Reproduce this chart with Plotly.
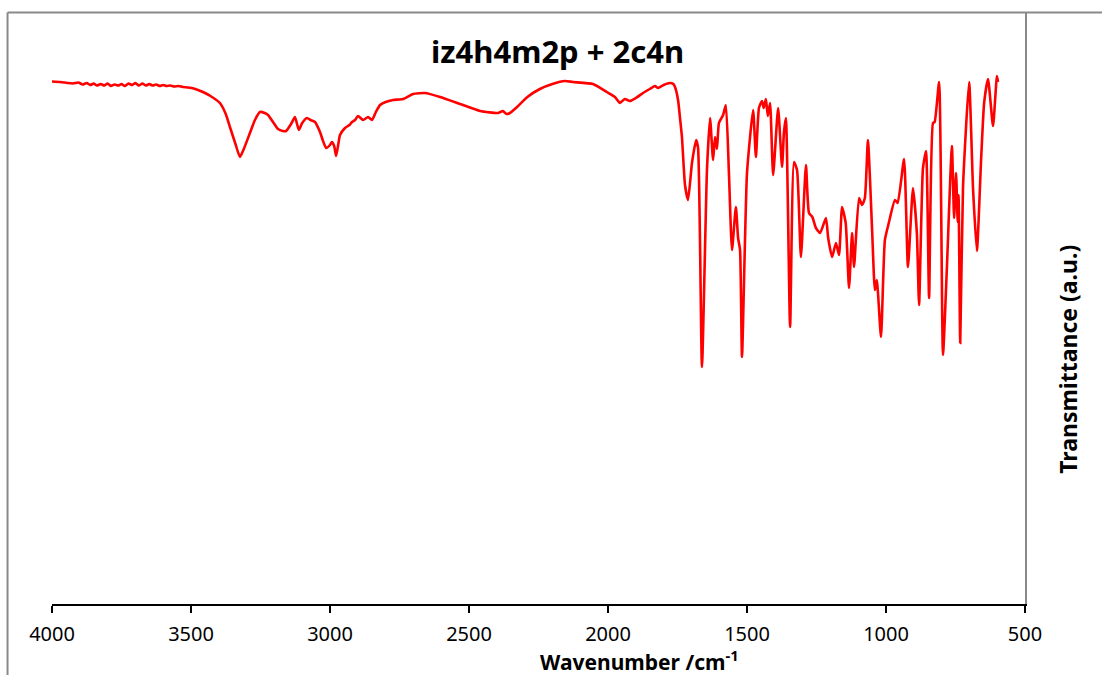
import plotly.graph_objects as go

# Wavenumber (cm^-1) and transmittance (a.u.)
wavenumber = [4000, 3970, 3945, 3925, 3905, 3890, 3875, 3862, 3850, 3838, 3825, 3812, 3800, 3788,
              3775, 3762, 3750, 3738, 3725, 3712, 3700, 3688, 3675, 3662, 3650, 3638, 3625, 3612,
              3600, 3588, 3575, 3560, 3545, 3529, 3510, 3490, 3457, 3430, 3396, 3375, 3360, 3340,
              3324, 3310, 3288, 3270, 3252, 3235, 3223, 3205, 3187, 3170, 3158, 3140, 3126, 3112,
              3100, 3083, 3070, 3054, 3036, 3025, 3014, 3000, 2993, 2985, 2978, 2970, 2964, 2946,
              2930, 2921, 2910, 2899, 2881, 2863, 2849, 2835, 2820, 2800, 2773, 2737, 2701, 2658,
              2604, 2532, 2460, 2396, 2378, 2365, 2353, 2327, 2290, 2245, 2200, 2155, 2126, 2054,
              2004, 1975, 1957, 1940, 1921, 1900, 1874, 1850, 1831, 1820, 1800, 1777, 1765, 1759,
              1748, 1741, 1734, 1723, 1712, 1698, 1683, 1676, 1662, 1644, 1633, 1622, 1615, 1608,
              1601, 1586, 1576, 1565, 1554, 1540, 1532, 1525, 1518, 1500, 1478, 1468, 1457, 1446,
              1440, 1432, 1425, 1417, 1406, 1388, 1374, 1367, 1360, 1345, 1331, 1320, 1306, 1288,
              1277, 1265, 1252, 1237, 1216, 1208, 1194, 1180, 1169, 1158, 1145, 1133, 1122, 1115,
              1097, 1086, 1076, 1065, 1050, 1040, 1033, 1018, 1004, 990, 968, 958, 935, 921,
              903, 889, 881, 867, 856, 845, 831, 825, 809, 795, 781, 763, 755, 748,
              742, 739, 733, 723, 701, 687, 673, 658, 647, 633, 615, 601, 597]
transmittance = [522.5, 522, 521, 520.5, 521.5, 519.5, 521, 519, 520.5, 518.5, 520, 518.5, 520.5, 518,
                 519.5, 518.5, 520, 518, 520.5, 519, 521, 518.5, 520.5, 518.5, 520, 518.5, 519.5, 518,
                 519, 518, 518.5, 517.5, 518, 517, 516.5, 515.5, 512, 508, 501, 490, 477, 460,
                 447, 455, 471, 484, 492, 491, 489, 482, 475, 473, 473, 480, 487, 474,
                 481, 486, 484, 482, 472, 463, 456, 459, 462, 458, 448, 460, 469, 476,
                 479, 482, 484, 488, 484, 487, 484, 492, 499, 502, 504, 505, 510, 511,
                 507, 500, 493, 491, 493, 490, 491, 497, 507, 515, 520, 523, 522, 520,
                 512, 507, 501, 505, 503, 506, 511, 515, 518, 516, 519, 521, 520, 517,
                 504, 486, 467, 419, 404, 441, 464, 456, 237, 434, 486, 444, 467, 455,
                 481, 489, 499, 431, 354, 397, 366, 354, 247, 431, 494, 447, 496, 503,
                 496, 505, 488, 501, 429, 496, 437, 472, 486, 277, 442, 434, 347, 439,
                 391, 387, 376, 371, 386, 366, 347, 361, 349, 397, 381, 316, 371, 337,
                 406, 399, 406, 464, 374, 314, 324, 267, 364, 381, 404, 401, 445, 337,
                 416, 371, 299, 436, 453, 306, 481, 482, 522, 249, 336, 458, 386, 431,
                 382, 409, 261, 417, 522, 416, 353, 444, 501, 525, 478, 528, 522]

x_ticks = [4000, 3500, 3000, 2500, 2000, 1500, 1000, 500]
x_range = [4000, 500]
y_range = [0, 591]

title_text = "iz4h4m2p + 2c4n"
x_title = "Wavenumber /cm<sup>-1</sup>"
y_title = "Transmittance (a.u.)"

FONT = "Noto Sans"
GRAY = "#898989"

fig = go.Figure()
fig.add_trace(go.Scatter(x=wavenumber, y=transmittance, mode="lines",
                         line=dict(color="#FF0000", width=2.6, shape="spline", smoothing=0.5),
                         hoverinfo="skip", showlegend=False))

fig.update_layout(
    width=1102, height=675,
    margin=dict(l=52, r=77, t=13, b=71, pad=0),
    paper_bgcolor="white", plot_bgcolor="white",
    font=dict(family=FONT, color="black"),
    xaxis=dict(range=x_range, tickvals=x_ticks, ticktext=[str(v) for v in x_ticks],
               showline=True, linecolor="black", linewidth=2,
               ticks="outside", ticklen=7, tickwidth=2, tickcolor="black",
               ticklabelstandoff=4,
               showgrid=False, zeroline=False,
               tickfont=dict(family=FONT, size=20, color="black")),
    yaxis=dict(range=y_range, side="right", showline=True, linecolor=GRAY, linewidth=2,
               ticks="", showticklabels=False, showgrid=False, zeroline=False),
    shapes=[
        dict(type="line", xref="paper", yref="paper", x0=-0.0457, x1=1.1, y0=1.0008, y1=1.0008,
             line=dict(color=GRAY, width=2)),
        dict(type="line", xref="paper", yref="paper", x0=-0.0457, x1=-0.0457, y0=1.0008, y1=-0.2,
             line=dict(color=GRAY, width=2)),
    ],
    annotations=[
        dict(text="<b>" + title_text + "</b>", xref="paper", yref="paper", x=0.52, y=0.935,
             xanchor="center", yanchor="middle", showarrow=False,
             font=dict(family=FONT, size=31, color="black")),
        dict(text="<b>" + x_title + "</b>", xref="paper", yref="paper", x=0.604, y=-0.095,
             xanchor="center", yanchor="middle", showarrow=False, borderpad=0,
             font=dict(family=FONT, size=21, color="black")),
        dict(text="<b>" + y_title + "</b>", xref="paper", yref="paper", x=1.044, y=0.4146,
             xanchor="center", yanchor="middle", showarrow=False, textangle=-90,
             font=dict(family=FONT, size=23, color="black")),
    ],
)

fig.write_html("out.html")
